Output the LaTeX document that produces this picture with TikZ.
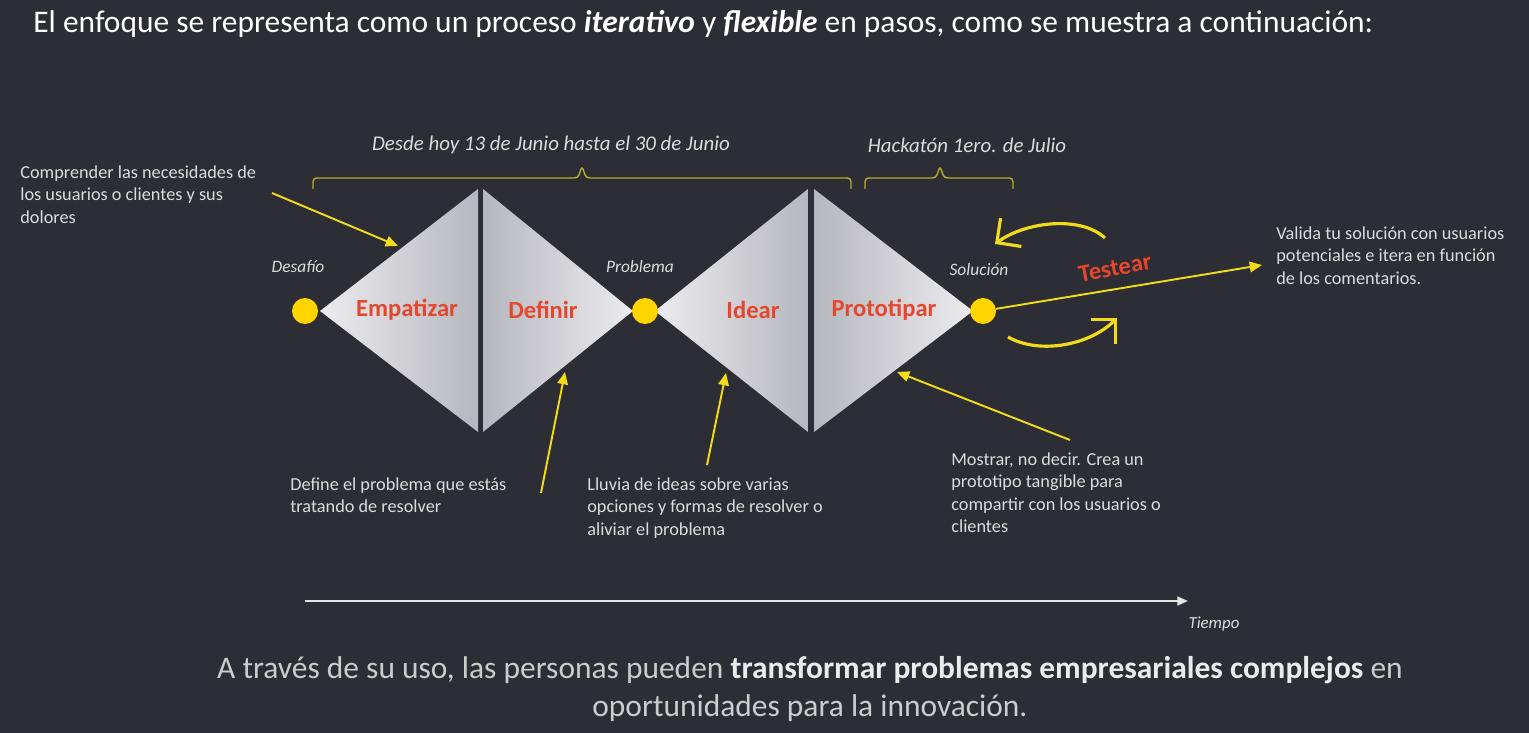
\documentclass[tikz,border=0pt]{standalone}
\usepackage{fontspec}
\setmainfont{Carlito}
\usetikzlibrary{arrows.meta}
\definecolor{bgdark}{HTML}{2C2D35}
\definecolor{dotyellow}{HTML}{FFD400}
\definecolor{arrowyellow}{HTML}{F2DC1A}
\definecolor{braceolive}{HTML}{B5AE2E}
\definecolor{stepred}{HTML}{E5472D}
\definecolor{textgray}{HTML}{DCDCDC}
\definecolor{trilight}{HTML}{ECECEF}
\definecolor{trimid}{HTML}{E0E0E4}
\definecolor{tridark}{HTML}{B6B6BE}

\begin{document}
\begin{tikzpicture}[x=0.02cm, y=-0.02cm,
    every node/.style={text=textgray, inner sep=0pt},
    note/.style={align=left, anchor=north west, font=\fontsize{10.4}{12.8}\selectfont},
    milestone/.style={circle, fill=dotyellow, minimum size=0.52cm},
    stagelabel/.style={font=\fontsize{9.9}{11}\selectfont\itshape},
    stepname/.style={text=stepred, font=\fontsize{14}{16}\selectfont\bfseries},
    pointer/.style={draw=arrowyellow, line width=1.1pt, -{Triangle[length=7pt,width=6pt]}},
    iterarrow/.style={draw=arrowyellow, line width=1.8pt, -{Straight Barb[length=10pt,width=20pt]}},
    spanbrace/.style={draw=braceolive, line width=0.8pt, rounded corners=2pt},
    tofacet/.style={left color=trilight, middle color=trimid, right color=tridark},
    fromfacet/.style={left color=tridark, middle color=trimid, right color=trilight}]

    \fill[bgdark] (0,0) rectangle (1529,733);
    \useasboundingbox (0,0) rectangle (1529,733);

    % title
    \node[anchor=base west, text=white, font=\fontsize{17.9}{21}\selectfont] (title) at (33,33)
        {El enfoque se representa como un proceso \textbf{\textit{iterativo}} y \textbf{\textit{flexible}} en pasos, como se muestra a continuación:};

    % the four triangles
    \shade[tofacet] (320,311) -- (478,189) -- (478,432) -- cycle;
    \shade[fromfacet] (483,189) -- (633,311) -- (483,432) -- cycle;
    \shade[tofacet] (655,311) -- (808,189) -- (808,432) -- cycle;
    \shade[fromfacet] (814,189) -- (973,311) -- (814,432) -- cycle;

    \node[stepname] (emp) at (407,310) {Empatizar};
    \node[stepname] (def) at (543,310) {Definir};
    \node[stepname] (ide) at (753,310) {Idear};
    \node[stepname] (pro) at (884,310) {Prototipar};

    % milestones
    \node[milestone] (des) at (305,311) {};
    \node[milestone] (prob) at (645,311) {};
    \node[milestone] (sol) at (983,311) {};
    \node[stagelabel] (desL) at (298,267) {Desafío};
    \node[stagelabel] (probL) at (640,267) {Problema};
    \node[stagelabel] (solL) at (979,270) {Solución};

    % braces
    \draw[spanbrace] (313,189) -- (313,178) -- (578,178) -- (582,166) -- (586,178) -- (851,178) -- (851,189);
    \draw[spanbrace] (865,189) -- (865,178) -- (936,178) -- (940,166) -- (944,178) -- (1013,178) -- (1013,189);
    \node[font=\fontsize{11.9}{14}\selectfont\itshape] (junio) at (551,145) {Desde hoy 13 de Junio hasta el 30 de Junio};
    \node[font=\fontsize{11.9}{14}\selectfont\itshape] (julio) at (967,145) {Hackatón 1ero. de Julio};

    % notes
    \node[note] (n1) at (20,165) {Comprender las necesidades de\\los usuarios o clientes y sus\\dolores};
    \node[note] (n2) at (290,477) {Define el problema que estás\\tratando de resolver};
    \node[note] (n3) at (587,477) {Lluvia de ideas sobre varias\\opciones y formas de resolver o\\aliviar el problema};
    \node[note] (n4) at (951,452) {Mostrar, no decir. Crea un\\prototipo tangible para\\compartir con los usuarios o\\clientes};
    \node[note] (n5) at (1276,226) {Valida tu solución con usuarios\\potenciales e itera en función\\de los comentarios.};

    \coordinate (a1s) at (272,193);
    \coordinate (a1e) at (398,246);
    \coordinate (a2s) at (541,493);
    \coordinate (a2e) at (565,372);
    \coordinate (a3s) at (707,465);
    \coordinate (a3e) at (726,373);
    \coordinate (a4s) at (1070,440);
    \coordinate (a4e) at (897,372);
    \coordinate (a5e) at (1262,265);

    \draw[pointer] (a1s) -- (a1e);
    \draw[pointer] (a2s) -- (a2e);
    \draw[pointer] (a3s) -- (a3e);
    \draw[pointer] (a4s) -- (a4e);
    \draw[pointer] (sol) -- (a5e);

    % testear loop
    \node[stepname, rotate=11] (test) at (1115,268) {Testear};
    \coordinate (l1s) at (1105,238);
    \coordinate (l1e) at (995,244);
    \coordinate (l2s) at (1008,337);
    \coordinate (l2e) at (1117,318);
    \draw[iterarrow] (l1s) .. controls (1080,215) and (1025,222) .. (l1e);
    \draw[iterarrow] (l2s) .. controls (1040,355) and (1090,345) .. (l2e);

    % time axis
    \coordinate (t0) at (305,601);
    \coordinate (t1) at (1188,601);
    \draw[draw=white!90!black, line width=1.1pt, -{Triangle[length=6pt,width=5pt]}] (t0) -- (t1);
    \node[font=\fontsize{9.6}{11}\selectfont\itshape] (tiempo) at (1214,624) {Tiempo};

    % closing sentence
    \node[anchor=north, align=center, text=white!80!black, font=\fontsize{17.9}{21.5}\selectfont] (bottom) at (810,656)
        {A través de su uso, las personas pueden \textbf{\textcolor{white!92!black}{transformar problemas empresariales complejos}} en\\oportunidades para la innovación.};
\end{tikzpicture}
\end{document}
